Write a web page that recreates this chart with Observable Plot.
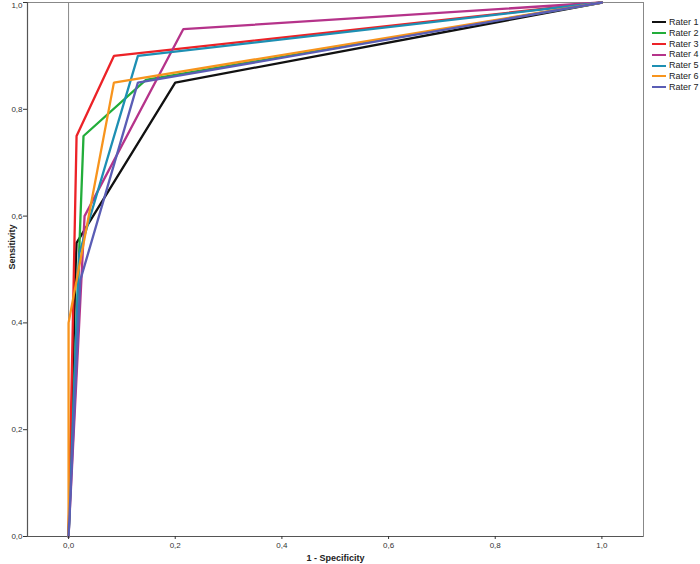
<!DOCTYPE html>
<html>
<head>
<meta charset="utf-8">
<script src="https://cdn.jsdelivr.net/npm/d3@7"></script>
<script src="https://cdn.jsdelivr.net/npm/@observablehq/plot@0.6"></script>
<style>
  html, body { margin: 0; padding: 0; background: #fff; }
  #wrap { position: relative; width: 700px; height: 564px; font-family: "Liberation Sans", Arial, sans-serif; }
  #legend { position: absolute; left: 652px; top: 17px; font-size: 9px; color: #222; line-height: 10.8px; }
  #legend .item { display: flex; align-items: center; white-space: nowrap; }
  #legend .sw { display: inline-block; width: 14px; height: 0; border-top: 2px solid; margin-right: 3px; }
</style>
</head>
<body>
<div id="wrap"></div>
<script>
const raters = ["Rater 1", "Rater 2", "Rater 3", "Rater 4", "Rater 5", "Rater 6", "Rater 7"];
const colors = ["#111111", "#22ad3a", "#ec2227", "#b5338a", "#1d8fb3", "#f7941d", "#5a5db5"];
// ROC points (1 - specificity, sensitivity) per rater
const rater1 = [[0, 0], [0.013, 0.5], [0.015, 0.55], [0.2, 0.85], [1, 1]];
const rater2 = [[0, 0], [0.028, 0.75], [0.145, 0.855], [1, 1]];
const rater3 = [[0, 0], [0.015, 0.75], [0.085, 0.9], [1, 1]];
const rater4 = [[0, 0], [0.03, 0.6], [0.215, 0.95], [1, 1]];
const rater5 = [[0, 0], [0.02, 0.53], [0.13, 0.9], [1, 1]];
const rater6 = [[0, 0], [0, 0.4], [0.085, 0.85], [1, 1]];
const rater7 = [[0, 0], [0.022, 0.48], [0.13, 0.85], [1, 1]];
const xTicks = [0, 0.2, 0.4, 0.6, 0.8, 1.0];
const yTicks = [0, 0.2, 0.4, 0.6, 0.8, 1.0];

const series = [rater1, rater2, rater3, rater4, rater5, rater6, rater7];
const data = series.flatMap((pts, i) => pts.map(([x, y]) => ({rater: raters[i], x, y})));
const fmt = d => d3.format(".1f")(d).replace(".", ",");

const chart = Plot.plot({
  width: 700,
  height: 564,
  marginLeft: 27,
  marginRight: 57,
  marginTop: 2,
  marginBottom: 28,
  style: {fontFamily: "Liberation Sans, Arial, sans-serif", fontSize: "8px", color: "#333", background: "#fff"},
  x: {domain: [-0.077, 1.078], ticks: xTicks, tickFormat: fmt, tickSize: 3, tickPadding: 3, label: null},
  y: {domain: [0, 1], ticks: yTicks, tickFormat: fmt, tickSize: 4, tickPadding: 1, label: null},
  color: {domain: raters, range: colors},
  marks: [
    Plot.frame({stroke: "#888", strokeWidth: 1}),
    Plot.ruleX([0], {stroke: "#888", strokeWidth: 1}),
    Plot.ruleX([-0.077], {stroke: "#555", strokeWidth: 1.2}),
    Plot.ruleY([0], {stroke: "#555", strokeWidth: 1.2}),
    Plot.line(data, {x: "x", y: "y", z: "rater", stroke: "rater", strokeWidth: 2.3, strokeLinejoin: "miter"}),
    Plot.axisX({ticks: xTicks, tickFormat: fmt, tickSize: 3, tickPadding: 3, label: null}),
    Plot.axisY({ticks: yTicks, tickFormat: d => (d === 1 ? "" : fmt(d)), tickSize: 4, tickPadding: 1, label: null}),
    Plot.text([1.0], {y: d => d, text: fmt, frameAnchor: "left", dx: -5, dy: 3, textAnchor: "end", fontSize: 8, fill: "#333"}),
    Plot.text(["1 - Specificity"], {frameAnchor: "bottom", dy: 24, fontWeight: "bold", fontSize: 9, fill: "#222"}),
    Plot.text(["Sensitivity"], {frameAnchor: "left", dx: -15, rotate: -90, fontWeight: "bold", fontSize: 9, fill: "#222"})
  ]
});
const wrap = document.getElementById("wrap");
wrap.appendChild(chart);

const legend = document.createElement("div");
legend.id = "legend";
raters.forEach((r, i) => {
  const item = document.createElement("div");
  item.className = "item";
  const sw = document.createElement("span");
  sw.className = "sw";
  sw.style.borderTopColor = colors[i];
  item.appendChild(sw);
  item.appendChild(document.createTextNode(r));
  legend.appendChild(item);
});
wrap.appendChild(legend);
</script>
</body>
</html>
